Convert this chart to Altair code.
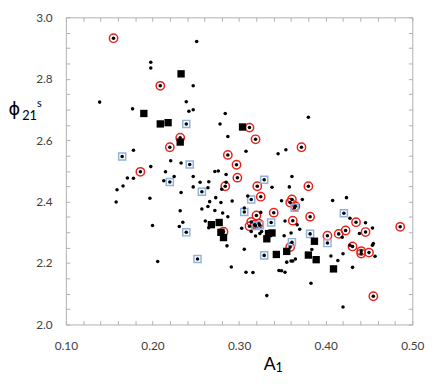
import altair as alt
import pandas as pd

# ---- data ----
dot_x = [0.251, 0.198, 0.198, 0.247, 0.139, 0.239, 0.177, 0.242, 0.247, 0.284,
         0.278, 0.287, 0.178, 0.221, 0.233, 0.198, 0.215, 0.225, 0.171, 0.178,
         0.247, 0.272, 0.276, 0.285, 0.213, 0.255, 0.265, 0.285, 0.166, 0.159,
         0.247, 0.264, 0.280, 0.380, 0.308, 0.345, 0.354, 0.361, 0.338, 0.358,
         0.158, 0.197, 0.233, 0.273, 0.266, 0.279, 0.292, 0.264, 0.257, 0.272,
         0.232, 0.281, 0.287, 0.261, 0.235, 0.231, 0.200, 0.265, 0.303, 0.286,
         0.306, 0.206, 0.291, 0.308, 0.310, 0.306, 0.349, 0.373, 0.408, 0.424,
         0.325, 0.428, 0.446, 0.454, 0.353, 0.367, 0.370, 0.314, 0.319, 0.324,
         0.326, 0.352, 0.360, 0.355, 0.360, 0.362, 0.365, 0.419, 0.439, 0.384,
         0.406, 0.420, 0.414, 0.431, 0.454, 0.455, 0.428, 0.457, 0.316, 0.346,
         0.349, 0.353, 0.383, 0.332, 0.420]
dot_y = [2.921, 2.854, 2.835, 2.777, 2.724, 2.725, 2.702, 2.694, 2.699, 2.687,
         2.653, 2.612, 2.567, 2.533, 2.526, 2.514, 2.497, 2.482, 2.477, 2.476,
         2.482, 2.498, 2.500, 2.488, 2.468, 2.463, 2.465, 2.463, 2.451, 2.439,
         2.448, 2.445, 2.440, 2.675, 2.564, 2.556, 2.569, 2.482, 2.447, 2.448,
         2.399, 2.411, 2.430, 2.413, 2.400, 2.397, 2.402, 2.384, 2.376, 2.371,
         2.370, 2.363, 2.351, 2.337, 2.333, 2.319, 2.322, 2.315, 2.313, 2.256,
         2.245, 2.205, 2.187, 2.170, 2.418, 2.379, 2.403, 2.407, 2.404, 2.413,
         2.365, 2.346, 2.331, 2.314, 2.337, 2.325, 2.310, 2.303, 2.288, 2.296,
         2.303, 2.289, 2.298, 2.203, 2.207, 2.207, 2.213, 2.284, 2.296, 2.244,
         2.223, 2.230, 2.208, 2.186, 2.258, 2.264, 2.258, 2.222, 2.169, 2.176,
         2.175, 2.170, 2.134, 2.094, 2.057]

red_x = [0.155, 0.209, 0.232, 0.220, 0.287, 0.297, 0.186, 0.298, 0.284, 0.312,
         0.319, 0.372, 0.321, 0.380, 0.325, 0.359, 0.361, 0.365, 0.340, 0.382,
         0.435, 0.486, 0.362, 0.320, 0.314, 0.312, 0.318, 0.323, 0.282, 0.402,
         0.415, 0.423, 0.446, 0.431, 0.441, 0.441, 0.450, 0.359, 0.455]
red_y = [2.932, 2.777, 2.608, 2.577, 2.552, 2.520, 2.497, 2.478, 2.450, 2.641,
         2.603, 2.577, 2.450, 2.450, 2.416, 2.397, 2.407, 2.385, 2.364, 2.351,
         2.333, 2.318, 2.338, 2.355, 2.334, 2.320, 2.325, 2.328, 2.302, 2.289,
         2.295, 2.306, 2.301, 2.254, 2.239, 2.231, 2.234, 2.252, 2.092]

blue_x = [0.239, 0.165, 0.243, 0.220, 0.257, 0.329, 0.314, 0.306, 0.364, 0.337,
          0.319, 0.324, 0.239, 0.252, 0.361, 0.329, 0.382, 0.402, 0.421]
blue_y = [2.653, 2.547, 2.521, 2.464, 2.432, 2.471, 2.407, 2.366, 2.380, 2.332,
          2.321, 2.323, 2.300, 2.213, 2.268, 2.225, 2.295, 2.265, 2.362]

sq_x = [0.233, 0.190, 0.209, 0.218, 0.304, 0.232, 0.268, 0.277, 0.279, 0.282,
        0.334, 0.338, 0.332, 0.387, 0.355, 0.343, 0.380, 0.389, 0.409]
sq_y = [2.816, 2.687, 2.653, 2.657, 2.643, 2.594, 2.325, 2.332, 2.300, 2.283,
        2.296, 2.298, 2.279, 2.271, 2.238, 2.228, 2.226, 2.211, 2.181]

x_label_values = [0.10, 0.20, 0.30, 0.40, 0.50]
y_label_values = [2.0, 2.2, 2.4, 2.6, 2.8, 3.0]
x_tick_values = [0.10, 0.12, 0.14, 0.16, 0.18, 0.20, 0.22, 0.24, 0.26, 0.28, 0.30,
                 0.32, 0.34, 0.36, 0.38, 0.40, 0.42, 0.44, 0.46, 0.48, 0.50]
y_tick_values = [2.0, 2.05, 2.1, 2.15, 2.2, 2.25, 2.3, 2.35, 2.4, 2.45, 2.5,
                 2.55, 2.6, 2.65, 2.7, 2.75, 2.8, 2.85, 2.9, 2.95, 3.0]

# ---- tables ----
dots = pd.DataFrame({"x": dot_x + red_x + blue_x, "y": dot_y + red_y + blue_y})
red = pd.DataFrame({"x": red_x, "y": red_y})
blue = pd.DataFrame({"x": blue_x, "y": blue_y})
squares = pd.DataFrame({"x": sq_x, "y": sq_y})

W, H = 353, 313
FONT = "Lato"
AX = "#b0b0b0"

xs = alt.Scale(domain=[0.1, 0.5], nice=False, zero=False)
ys = alt.Scale(domain=[2.0, 3.0], nice=False, zero=False)

# main axes: labels and the main title glyphs
x_main = alt.Axis(values=x_label_values, format=".2f", ticks=False, domain=False,
                  grid=False, labelFont=FONT, labelFontSize=12, labelColor="#404040",
                  labelPadding=16, labelFlush=False, labelOverlap=False,
                  title="A", titleFont=FONT, titleFontSize=18,
                  titleFontWeight="normal", titleColor="#000000", titleX=201,
                  titleY=46, titleAlign="left", titleBaseline="alphabetic")
y_main = alt.Axis(values=y_label_values, format=".1f", ticks=False, domain=False,
                  grid=False, labelFont=FONT, labelFontSize=12, labelColor="#404040",
                  labelPadding=14, labelFlush=False, labelOverlap=False,
                  title="ϕ", titleFont="DejaVu Sans", titleFontSize=18,
                  titleFontWeight="normal", titleColor="#000000", titleAngle=0,
                  titleAlign="left", titleBaseline="alphabetic", titleX=-59,
                  titleY=99)


# inward tick axes (they also carry the sub/superscript parts of the titles)
def tick_axis(values, orient, offset, title="", tx=0, ty=0, tsize=12):
    return alt.Axis(values=values, orient=orient, offset=offset, labels=False,
                    domain=False, grid=False, ticks=True, tickSize=4,
                    tickColor=AX, tickWidth=1, title=title, titleFont=FONT,
                    titleFontSize=tsize, titleFontWeight="normal",
                    titleColor="#000000", titleAngle=0, titleAlign="left",
                    titleBaseline="alphabetic", titleX=tx, titleY=ty)


red_layer = alt.Chart(red).mark_point(
    shape="circle", filled=False, size=72, stroke="#e8231c", strokeWidth=1.5,
    opacity=1
).encode(
    x=alt.X("x:Q", scale=xs, axis=x_main),
    y=alt.Y("y:Q", scale=ys, axis=y_main),
)

blue_layer = alt.Chart(blue).mark_point(
    shape="square", filled=False, size=52, stroke="#8fb3dd", strokeWidth=1.5,
    opacity=1
).encode(
    # top-oriented axis moved to the bottom edge: ticks point inward
    x=alt.X("x:Q", scale=xs,
            axis=tick_axis(x_tick_values, "top", -H, "1", 213, 48, 13)),
    # right-oriented axis moved to the left edge
    y=alt.Y("y:Q", scale=ys,
            axis=tick_axis(y_tick_values, "right", -W, "21", -45, 104, 13)),
)

sq_layer = alt.Chart(squares).mark_point(
    shape="square", filled=True, size=56, color="#000000", opacity=1
).encode(
    # bottom-oriented axis moved to the top edge
    x=alt.X("x:Q", scale=xs, axis=tick_axis(x_tick_values, "bottom", -H)),
    # left-oriented axis moved to the right edge
    y=alt.Y("y:Q", scale=ys,
            axis=tick_axis(y_tick_values, "left", -W, "s", -383, 91, 11)),
)

dot_layer = alt.Chart(dots).mark_point(
    shape="circle", filled=True, size=13, color="#000000", opacity=1
).encode(
    x=alt.X("x:Q", scale=xs, axis=None),
    y=alt.Y("y:Q", scale=ys, axis=None),
)

chart = alt.layer(red_layer, blue_layer, sq_layer, dot_layer).resolve_axis(
    x="independent", y="independent"
).resolve_scale(
    x="shared", y="shared"
).properties(
    width=W, height=H,
    autosize=alt.AutoSizeParams(type="none"),
    padding={"left": 59, "top": 6, "right": 16, "bottom": 50},
    background="#ffffff",
).configure_view(
    stroke=AX, strokeWidth=1
)

chart.save("out.html", embed_options={"renderer": "svg", "actions": False})
